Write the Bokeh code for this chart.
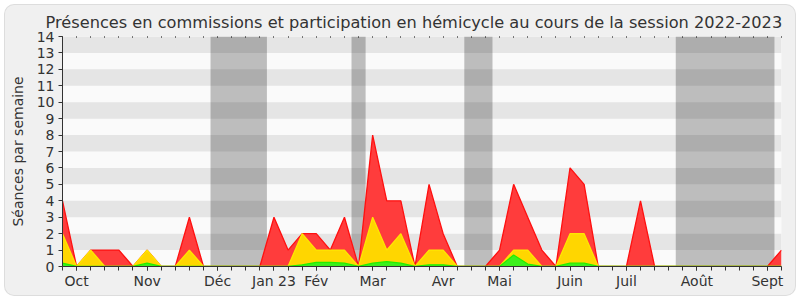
from bokeh.plotting import figure
from bokeh.models import Range1d, FixedTicker, BoxAnnotation, LinearAxis, ColumnDataSource
from bokeh.embed import file_html
from bokeh.resources import INLINE

TITLE = "Présences en commissions et participation en hémicycle au cours de la session 2022-2023"
YLABEL = "Séances par semaine"

weeks = list(range(52))
red = [4, 0, 1, 1, 1, 0, 1, 0, 0, 3, 0, 0, 0, 0, 0, 3, 1, 2, 2, 1, 3, 0, 8, 4, 4, 0,
       5, 2, 0, 0, 0, 1, 5, 3, 1, 0, 6, 5, 0, 0, 0, 4, 0, 0, 0, 0, 0, 0, 0, 0, 0, 1]
yellow = [2, 0, 1, 0, 0, 0, 1, 0, 0, 1, 0, 0, 0, 0, 0, 0, 0, 2, 1, 1, 1, 0, 3, 1, 2, 0,
          1, 1, 0, 0, 0, 0, 1, 1, 0, 0, 2, 2, 0, 0, 0, 0, 0, 0, 0, 0, 0, 0, 0, 0, 0, 0]
green = [0.2, 0, 0, 0, 0, 0, 0.2, 0, 0, 0, 0, 0, 0, 0, 0, 0, 0, 0.1, 0.25, 0.25, 0.2, 0,
         0.2, 0.3, 0.2, 0, 0.1, 0.1, 0, 0, 0, 0, 0.7, 0.15, 0, 0, 0.2, 0.2, 0, 0, 0, 0,
         0, 0, 0, 0, 0, 0, 0, 0, 0, 0]

month_pos = [1, 6, 11, 15, 18, 22, 27, 31, 36, 40, 45, 50]
month_labels = ["Oct", "Nov", "Déc", "Jan 23", "Fév", "Mar", "Avr", "Mai", "Juin", "Juil", "Août", "Sept"]

vac_start = [10.5, 20.5, 28.5, 43.5]
vac_end = [14.5, 21.5, 30.5, 50.5]

FONT = "DejaVu Sans"
TXT = "#333333"

p = figure(width=790, height=290, x_range=Range1d(0, 51), y_range=Range1d(0, 14),
           output_backend="svg", toolbar_location=None,
           min_border_left=57, min_border_right=14, min_border_top=31, min_border_bottom=29,
           background_fill_color="#fafafa", border_fill_color=None,
           styles={"margin": "5px", "border-radius": "9px", "background-color": "#f0f0f0",
                   "box-shadow": "0 0 0 1px #dddddd"})
p.outline_line_color = None
p.xgrid.visible = False
p.ygrid.visible = False

p.title.text = TITLE
p.title.text_font = FONT
p.title.text_font_size = "16.2px"
p.title.text_font_style = "normal"
p.title.text_color = TXT
p.title.align = "left"
p.title.offset = -17

# horizontal stripes
for k in range(1, 14, 2):
    p.add_layout(BoxAnnotation(bottom=k, top=k + 1, fill_color="#e5e5e5", fill_alpha=1,
                               line_color=None, level="underlay"))
# vacation bands
for a, b in zip(vac_start, vac_end):
    p.add_layout(BoxAnnotation(left=a, right=b, fill_color="black", fill_alpha=0.245,
                               line_color=None, level="underlay"))

src = ColumnDataSource(dict(x=weeks, red=red, yellow=yellow, green=green))
p.varea(x="x", y1=0, y2="red", source=src, fill_color="#ff3c3c")
p.line(x="x", y="red", source=src, line_color="#ff1010", line_width=1.3)
p.varea(x="x", y1=0, y2="yellow", source=src, fill_color="#ffd600")
p.line(x="x", y="yellow", source=src, line_color="#ffe600", line_width=1.3)
p.varea(x="x", y1=0, y2="green", source=src, fill_color="#3cf01c")
p.line(x="x", y="green", source=src, line_color="#22ee00", line_width=1.3)

# axes
xa = p.xaxis[0]
xa.ticker = FixedTicker(ticks=month_pos, minor_ticks=weeks)
xa.major_label_overrides = {pos: lab for pos, lab in zip(month_pos, month_labels)}
xa.major_tick_in = 0
xa.major_tick_out = 4
xa.minor_tick_in = 0
xa.minor_tick_out = 4
xa.major_label_standoff = 2
xa.axis_line_color = TXT
xa.major_tick_line_color = TXT
xa.minor_tick_line_color = TXT
xa.major_label_text_font = FONT
xa.major_label_text_font_size = "14px"
xa.major_label_text_color = TXT

ya = p.yaxis[0]
ya.ticker = FixedTicker(ticks=list(range(15)))
ya.minor_tick_line_color = None
ya.major_tick_in = 0
ya.major_tick_out = 4
ya.major_label_standoff = 4
ya.axis_line_color = TXT
ya.major_tick_line_color = TXT
ya.major_label_text_font = FONT
ya.major_label_text_font_size = "14px"
ya.major_label_text_color = TXT
ya.axis_label = YLABEL
ya.axis_label_text_font = FONT
ya.axis_label_text_font_size = "14px"
ya.axis_label_text_font_style = "normal"
ya.axis_label_text_color = TXT
ya.axis_label_standoff = 8

top = LinearAxis(ticker=FixedTicker(ticks=[], minor_ticks=weeks))
top.axis_line_color = None
top.major_tick_line_color = None
top.minor_tick_in = 1
top.minor_tick_out = 0
top.minor_tick_line_color = "black"
top.major_label_standoff = 0
p.add_layout(top, "above")

open("out.html", "w").write(file_html(p, INLINE))
